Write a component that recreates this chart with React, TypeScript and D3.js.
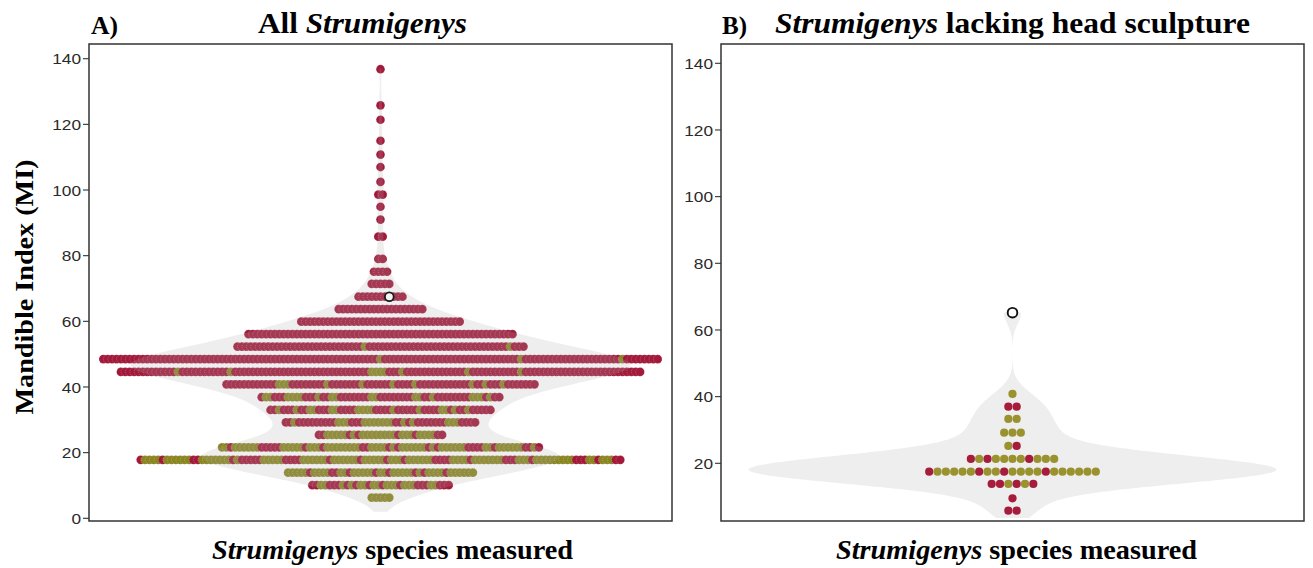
import React from "react";
import * as d3 from "d3";

// ---------- data ----------
// Panel A: every measured Strumigenys species, binned by mandible index (MI).
// Each bin is a horizontal stack; runs give the colour of the dots left to right
// (r = crimson group, o = olive group, number = how many dots in a row).
const binMIAll = [
  136.8, 125.8, 121.4, 115.0, 110.8, 107.0, 102.5, 98.6, 94.9, 91.0, 85.8, 79.0,
  75.1, 71.4, 67.5, 63.7, 59.9, 56.1, 52.3, 48.5, 44.6, 40.8, 36.9, 33.0, 29.2,
  25.4, 21.6, 17.8, 13.9, 10.1, 6.3,
];
const binRunsAll = [
  "r1", "r1", "r1", "r1", "r1", "r1", "r1", "r2", "r1", "r1", "r2", "r2",
  "r4", "r5", "r11", "r20", "r37", "r61",
  "r29 o1 r32 o1 r3",
  "r63 o1 r31 o1 r22 o1 r8",
  "r13 o1 r11 o1 r31 o4 r3 o1 r14 o1 r11 o1 r27",
  "r12 o3 r8 o1 r7 o1 r6 o1 r4 o1 r12 o1 r2 o1 r3 o1 r7",
  "r1 o2 r3 o4 r3 o1 r2 o2 r7 o2 r8 o2 r2 o1 r8 o3 r1 o1 r2",
  "r2 o1 r3 o1 r2 o2 r3 o2 r4 o4 r4 o1 r5 o1 r4 o2 r1 o1 r2 o1 r5",
  "r2 o1 r9 o3 r3 o7 r2 o1 r1 o1 r7 o3 r4",
  "r2 o5 r1 o1 r1 o8 r1 o3 r1 o4 r2",
  "o2 r1 o6 r5 o5 r1 o3 r1 o8 r2 o4 r1 o1 r1 o6 r1 o1 r1 o6 r4 o2 r1 o6 r2 o1 r1",
  "r1 o4 r1 o6 r2 o7 r1 o1 r5 o5 r4 o6 r1 o6 r1 o5 r1 o3 r1 o6 r4 o4 r1 o7 r3 o3 r1 o9 r3 o2 r1 o3 r2",
  "o5 r1 o4 r2 o2 r1 o5 r1 o2 r1 o5 r1 o1 r1 o4 r1 o6",
  "r2 o2 r3 o1 r1 o1 r1 o2 r1 o2 r1 o3 r1 o3 r3 o2 r3",
  "o5",
];
// Violin extent for panel A (lowest and highest MI measured)
const violinRangeAll = [2.0, 137.0];
// Highlighted species in panel A: MI bin and its dot position in that stack
const highlightAll = { mi: 67.5, dot: 7 };

// Panel B: species lacking head sculpture
const binMINoSculpt = [40.8, 37.0, 33.3, 29.2, 25.2, 21.3, 17.5, 13.8, 9.5, 5.8];
const binRunsNoSculpt = [
  "o1", "r2", "o2", "o3", "o1 r1",
  "r1 o1 r1 o4 r1 o3",
  "r1 o5 r1 o2 r1 o4 r1 o6",
  "r2 o1 r1 o1 r1",
  "r1", "r2",
];
const violinRangeNoSculpt = [3.6, 65.2];
const highlightNoSculpt = { mi: 65.2 };

const ticksAll = [0, 20, 40, 60, 80, 100, 120, 140];
const ticksNoSculpt = [20, 40, 60, 80, 100, 120, 140];

// ---------- helpers ----------
function expandRuns(runs: string): string[] {
  const out: string[] = [];
  runs.split(" ").forEach((tok) => {
    const c = tok[0];
    const k = parseInt(tok.slice(1), 10);
    for (let i = 0; i < k; i++) out.push(c);
  });
  return out;
}

function kde(values: number[], bw: number, lo: number, hi: number, n = 300) {
  return d3.range(n).map((i) => {
    const y = lo + ((hi - lo) * i) / (n - 1);
    const dens = d3.sum(values, (v) => Math.exp(-0.5 * ((y - v) / bw) ** 2));
    return [y, dens] as [number, number];
  });
}

type Dot = { mi: number; idx: number; n: number; c: string };

function buildDots(mis: number[], runs: string[]): Dot[] {
  const dots: Dot[] = [];
  mis.forEach((mi, r) => {
    const cols = expandRuns(runs[r]);
    cols.forEach((c, i) => dots.push({ mi, idx: i, n: cols.length, c }));
  });
  return dots;
}

const SERIF = "'Liberation Serif', 'Times New Roman', serif";
const SANS = "'Liberation Sans', Arial, sans-serif";
const AXIS = "#333333";

// ---------- panels ----------
const frameA = { left: 89, right: 672, top: 44, bottom: 521 };
const frameB = { left: 721, right: 1304, top: 44, bottom: 521 };

const yA = d3.scaleLinear().domain([0, 140]).range([518.3, 58.7]);
const yB = d3.scaleLinear().domain([20, 140]).range([463.3, 63.3]);

const cxA = (frameA.left + frameA.right) / 2;
const cxB = (frameB.left + frameB.right) / 2;

const colA: Record<string, string> = { r: "#a2193a", o: "#8a8520" };
const colB: Record<string, string> = { r: "#a61c3c", o: "#9a922e" };

function YAxis({ frame, scale, ticks }: any) {
  return (
    <g>
      {ticks.map((t: number) => (
        <g key={t}>
          <line x1={frame.left - 6} x2={frame.left} y1={scale(t)} y2={scale(t)} stroke={AXIS} strokeWidth={1.1} />
          <text
            x={frame.left - 8}
            y={scale(t)}
            dy="0.36em"
            textAnchor="end"
            fontFamily={SANS}
            fontSize={15.5}
            fill="#2a2a2a"
            textLength={String(t).length * 9.6}
            lengthAdjust="spacingAndGlyphs"
          >
            {t}
          </text>
        </g>
      ))}
    </g>
  );
}

function Frame({ frame }: any) {
  return (
    <rect
      x={frame.left}
      y={frame.top}
      width={frame.right - frame.left}
      height={frame.bottom - frame.top}
      fill="none"
      stroke={AXIS}
      strokeWidth={1.5}
    />
  );
}

export default function App() {
  const dotsA = buildDots(binMIAll, binRunsAll);
  const dotsB = buildDots(binMINoSculpt, binRunsNoSculpt);

  // violin A: density of every species' MI, drawn as a translucent veil over the dots
  const densA = kde(dotsA.map((d) => d.mi), 4.0, violinRangeAll[0], violinRangeAll[1]);
  const wA = d3.scaleLinear().domain([0, d3.max(densA, (d) => d[1]) as number]).range([0, 250]);
  const areaA = d3
    .area<[number, number]>()
    .y((d) => yA(d[0]))
    .x0((d) => cxA - wA(d[1]))
    .x1((d) => cxA + wA(d[1]))
    .curve(d3.curveBasis);

  const valsB = dotsB.map((d) => d.mi).concat([highlightNoSculpt.mi]);
  const densB = kde(valsB, 3.4, violinRangeNoSculpt[0], violinRangeNoSculpt[1]);
  const wB = d3.scaleLinear().domain([0, d3.max(densB, (d) => d[1]) as number]).range([0, 264]);
  const areaB = d3
    .area<[number, number]>()
    .y((d) => yB(d[0]))
    .x0((d) => cxB - wB(d[1]))
    .x1((d) => cxB + wB(d[1]))
    .curve(d3.curveBasis);

  const stepA = 4.4;
  const rA = 4.35;
  const stepB = 8.33;
  const rB = 4.1;

  const ringRow = binMIAll.indexOf(highlightAll.mi);
  const ringN = expandRuns(binRunsAll[ringRow]).length;
  const ringXA = cxA + (highlightAll.dot - (ringN - 1) / 2) * stepA;

  return (
    <svg
      width={1313}
      height={568}
      style={{ position: "absolute", left: 0, top: 0, background: "#ffffff" }}
    >
      {/* ---------- Panel A ---------- */}
      <g>
        {dotsA.map((d, i) => (
          <circle
            key={i}
            cx={cxA + (d.idx - (d.n - 1) / 2) * stepA}
            cy={yA(d.mi)}
            r={rA}
            fill={colA[d.c]}
            stroke="#ffffff"
            strokeOpacity={0.45}
            strokeWidth={0.6}
            strokeDasharray="1 1"
          />
        ))}
        <path d={areaA(densA) as string} fill="#b0b0b0" fillOpacity={0.21} />
        <circle cx={ringXA} cy={yA(highlightAll.mi)} r={4.4} fill="#f4f4f4" stroke="#1a1a1a" strokeWidth={1.8} />
        <Frame frame={frameA} />
        <YAxis frame={frameA} scale={yA} ticks={ticksAll} />
      </g>

      {/* ---------- Panel B ---------- */}
      <g>
        <path d={areaB(densB) as string} fill="#eeeeee" />
        {dotsB.map((d, i) => (
          <circle
            key={i}
            cx={cxB + (d.idx - (d.n - 1) / 2) * stepB}
            cy={yB(d.mi)}
            r={rB}
            fill={colB[d.c]}
          />
        ))}
        <circle cx={cxB} cy={yB(highlightNoSculpt.mi)} r={4.8} fill="#ffffff" stroke="#111111" strokeWidth={1.9} />
        <Frame frame={frameB} />
        <YAxis frame={frameB} scale={yB} ticks={ticksNoSculpt} />
      </g>

      {/* ---------- titles ---------- */}
      <text x={91} y={34} fontFamily={SERIF} fontWeight="bold" fontSize={26} fill="#000" textLength={27} lengthAdjust="spacingAndGlyphs">
        A)
      </text>
      <text x={258} y={33} fontFamily={SERIF} fontWeight="bold" fontSize={29} fill="#000" textLength={209} lengthAdjust="spacingAndGlyphs">
        All <tspan fontStyle="italic">Strumigenys</tspan>
      </text>
      <text x={722} y={34} fontFamily={SERIF} fontWeight="bold" fontSize={26} fill="#000" textLength={25} lengthAdjust="spacingAndGlyphs">
        B)
      </text>
      <text x={775} y={33} fontFamily={SERIF} fontWeight="bold" fontSize={29} fill="#000" textLength={475} lengthAdjust="spacingAndGlyphs">
        <tspan fontStyle="italic">Strumigenys</tspan> lacking head sculpture
      </text>

      <text
        transform={`translate(33, 287) rotate(-90)`}
        textAnchor="middle"
        fontFamily={SERIF}
        fontWeight="bold"
        fontSize={26}
        fill="#000"
        textLength={255}
        lengthAdjust="spacingAndGlyphs"
      >
        Mandible Index (MI)
      </text>

      <text x={212} y={559} fontFamily={SERIF} fontWeight="bold" fontSize={27} fill="#000" textLength={361} lengthAdjust="spacingAndGlyphs">
        <tspan fontStyle="italic">Strumigenys</tspan> species measured
      </text>
      <text x={836} y={559} fontFamily={SERIF} fontWeight="bold" fontSize={27} fill="#000" textLength={361} lengthAdjust="spacingAndGlyphs">
        <tspan fontStyle="italic">Strumigenys</tspan> species measured
      </text>
    </svg>
  );
}
